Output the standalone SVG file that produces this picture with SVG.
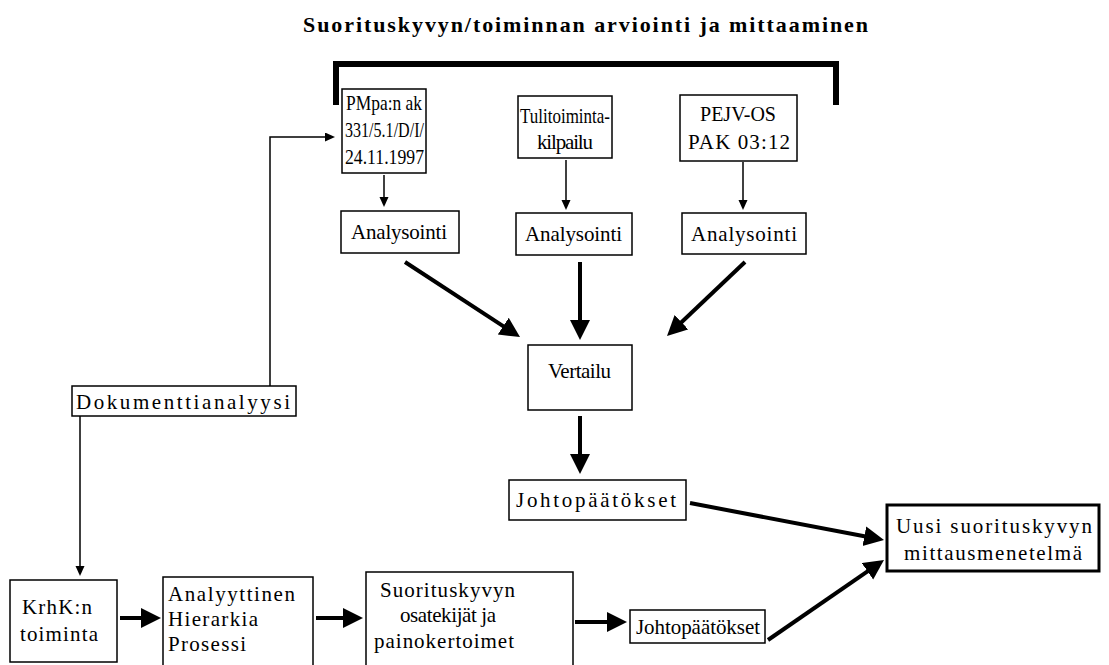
<svg xmlns="http://www.w3.org/2000/svg" width="1109" height="665" viewBox="0 0 1109 665">
<style>
.box{fill:#fff;stroke:#000;stroke-width:1.5}
.bold{fill:#fff;stroke:#000;stroke-width:3}
.t{font-family:'Liberation Serif','DejaVu Serif',serif;font-size:21px;fill:#000}
.title{font-family:'Liberation Serif','DejaVu Serif',serif;font-weight:bold;font-size:22px;fill:#000}
.thin{stroke:#000;stroke-width:1.5;fill:none}
.thick{stroke:#000;stroke-width:4;fill:none}
</style>
<defs>
<marker id="ah" markerUnits="userSpaceOnUse" markerWidth="12" markerHeight="10" refX="2" refY="4.5" orient="auto"><path d="M0,0 L10,4.5 L0,9 z" fill="#000"/></marker>
<marker id="AH" markerUnits="userSpaceOnUse" markerWidth="22" markerHeight="22" refX="4" refY="10" orient="auto"><path d="M0,0 L20,10 L0,20 z" fill="#000"/></marker>
</defs>
<rect width="1109" height="665" fill="#fff"/>
<text class="title" x="303" y="32" textLength="565" lengthAdjust="spacing">Suorituskyvyn/toiminnan arviointi ja mittaaminen</text>
<path d="M336 105 V64 H836 V105" stroke="#000" stroke-width="6" fill="none"/>
<g id="connectors">
<line class="thin" x1="384" y1="175" x2="384" y2="199" marker-end="url(#ah)"/>
<line class="thin" x1="566" y1="160" x2="566" y2="202" marker-end="url(#ah)"/>
<line class="thin" x1="743" y1="162" x2="743" y2="202" marker-end="url(#ah)"/>
<polyline class="thin" points="270,386 270,137 327,137" marker-end="url(#ah)"/>
<line class="thin" x1="80" y1="416" x2="80" y2="568" marker-end="url(#ah)"/>
<line class="thick" x1="405" y1="262" x2="506.6" y2="328.3" marker-end="url(#AH)"/>
<line class="thick" x1="580" y1="262" x2="580" y2="324" marker-end="url(#AH)"/>
<line class="thick" x1="745" y1="262" x2="678.6" y2="325" marker-end="url(#AH)"/>
<line class="thick" x1="580" y1="416" x2="580" y2="458" marker-end="url(#AH)"/>
<line class="thick" x1="690" y1="503" x2="868.3" y2="537" marker-end="url(#AH)"/>
<line class="thick" x1="768" y1="640" x2="870.8" y2="569.1" marker-end="url(#AH)"/>
<line class="thick" x1="120" y1="618" x2="145" y2="618" marker-end="url(#AH)"/>
<line class="thick" x1="316" y1="618" x2="347" y2="618" marker-end="url(#AH)"/>
<line class="thick" x1="575" y1="622" x2="611" y2="622" marker-end="url(#AH)"/>
</g>
<g id="pmpa"><rect class="box" x="342" y="89" width="84" height="84"/>
<text class="t" x="346" y="110" textLength="76" lengthAdjust="spacingAndGlyphs">PMpa:n ak</text>
<text class="t" x="345" y="137" textLength="79" lengthAdjust="spacingAndGlyphs">331/5.1/D/I/</text>
<text class="t" x="345" y="164" textLength="79" lengthAdjust="spacingAndGlyphs">24.11.1997</text></g>
<g id="tuli"><rect class="box" x="518" y="96" width="94" height="62"/>
<text class="t" x="520" y="123" textLength="90" lengthAdjust="spacingAndGlyphs">Tulitoiminta-</text>
<text class="t" x="537" y="149" textLength="56" lengthAdjust="spacing">kilpailu</text></g>
<g id="pejv"><rect class="box" x="680" y="95" width="117" height="66"/>
<text class="t" x="700" y="121" textLength="76" lengthAdjust="spacingAndGlyphs">PEJV-OS</text>
<text class="t" x="688" y="149" textLength="102" lengthAdjust="spacing">PAK 03:12</text></g>
<g id="an1"><rect class="box" x="341" y="211" width="118" height="42"/>
<text class="t" x="351" y="239" textLength="96" lengthAdjust="spacing">Analysointi</text></g>
<g id="an2"><rect class="box" x="516" y="213" width="116" height="42"/>
<text class="t" x="525" y="241" textLength="97" lengthAdjust="spacing">Analysointi</text></g>
<g id="an3"><rect class="box" x="682" y="213" width="124" height="41"/>
<text class="t" x="691" y="241" textLength="106" lengthAdjust="spacing">Analysointi</text></g>
<g id="vertailu"><rect class="box" x="528" y="345" width="104" height="65"/>
<text class="t" x="548" y="378" textLength="63" lengthAdjust="spacing">Vertailu</text></g>
<g id="johto1"><rect class="box" x="509" y="480" width="177" height="40"/>
<text class="t" x="516" y="507" textLength="160" lengthAdjust="spacing">Johtopäätökset</text></g>
<g id="uusi"><rect class="bold" x="887" y="505" width="212" height="66"/>
<text class="t" x="896" y="533" textLength="196" lengthAdjust="spacing">Uusi suorituskyvyn</text>
<text class="t" x="904" y="560" textLength="178" lengthAdjust="spacing">mittausmenetelmä</text></g>
<g id="doku"><rect class="box" x="72" y="386" width="224" height="30"/>
<text class="t" x="76" y="409" textLength="214" lengthAdjust="spacing">Dokumenttianalyysi</text></g>
<g id="krhk"><rect class="box" x="10" y="580" width="107" height="82"/>
<text class="t" x="22" y="614" textLength="70" lengthAdjust="spacing">KrhK:n</text>
<text class="t" x="20" y="641" textLength="78" lengthAdjust="spacing">toiminta</text></g>
<g id="ahp"><rect class="box" x="163" y="577" width="150" height="90"/>
<text class="t" x="168" y="601" textLength="127" lengthAdjust="spacing">Analyyttinen</text>
<text class="t" x="168" y="626" textLength="90" lengthAdjust="spacing">Hierarkia</text>
<text class="t" x="168" y="651" textLength="78" lengthAdjust="spacing">Prosessi</text></g>
<g id="suor"><rect class="box" x="366" y="572" width="207" height="95"/>
<text class="t" x="380" y="597" textLength="135" lengthAdjust="spacing">Suorituskyvyn</text>
<text class="t" x="400" y="622" textLength="96" lengthAdjust="spacing">osatekijät ja</text>
<text class="t" x="374" y="648" textLength="140" lengthAdjust="spacing">painokertoimet</text></g>
<g id="johto2"><rect class="box" x="630" y="610" width="135" height="33"/>
<text class="t" x="636" y="634" textLength="124" lengthAdjust="spacing">Johtopäätökset</text></g>
</svg>
